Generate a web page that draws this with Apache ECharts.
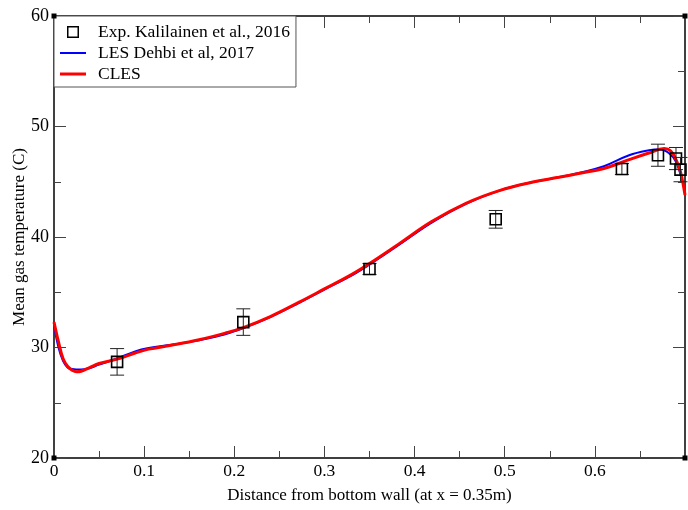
<!DOCTYPE html>
<html>
<head>
<meta charset="utf-8">
<script src="https://cdn.jsdelivr.net/npm/echarts@6/dist/echarts.min.js"></script>
<style>html,body{margin:0;padding:0;background:#fff}#c{width:688px;height:510px}</style>
</head>
<body>
<div id="c"></div>
<script>
// Experimental data (Kalilainen et al., 2016)
var expX = [0.07, 0.21, 0.35, 0.49, 0.63, 0.67, 0.69, 0.695];
var expY = [28.7, 32.3, 37.1, 41.6, 46.15, 47.4, 47.1, 46.1];
var expErr = [1.2, 1.2, 0.5, 0.8, 0.5, 1.0, 1.0, 1.1];

// LES Dehbi et al, 2017
var lesX = [0, 0.005, 0.01, 0.015, 0.02, 0.03, 0.04, 0.05, 0.07, 0.09, 0.105, 0.13, 0.161, 0.19, 0.21, 0.24, 0.272, 0.3, 0.33, 0.35, 0.383, 0.419, 0.457, 0.494, 0.53, 0.56, 0.582, 0.61, 0.638, 0.66, 0.672, 0.682, 0.69, 0.697];
var lesY = [32.0, 30.0, 28.8, 28.2, 28.05, 28.0, 28.15, 28.45, 29.0, 29.65, 29.95, 30.25, 30.65, 31.2, 31.75, 32.75, 34.05, 35.25, 36.5, 37.5, 39.3, 41.3, 43.0, 44.2, 44.95, 45.4, 45.8, 46.4, 47.4, 47.85, 47.95, 47.6, 46.8, 45.0];

// CLES
var clesX = [0, 0.005, 0.01, 0.015, 0.02, 0.025, 0.03, 0.04, 0.05, 0.07, 0.09, 0.105, 0.13, 0.161, 0.19, 0.21, 0.24, 0.272, 0.3, 0.33, 0.35, 0.383, 0.419, 0.457, 0.494, 0.53, 0.56, 0.582, 0.61, 0.638, 0.66, 0.677, 0.684, 0.69, 0.695, 0.7];
var clesY = [32.3, 30.5, 29.0, 28.3, 27.95, 27.8, 27.85, 28.2, 28.55, 28.95, 29.5, 29.85, 30.2, 30.7, 31.3, 31.8, 32.8, 34.1, 35.3, 36.6, 37.6, 39.4, 41.4, 43.05, 44.2, 44.95, 45.4, 45.75, 46.2, 47.0, 47.6, 48.0, 47.8, 47.0, 45.9, 43.8];

var xTicks = ['0', '0.1', '0.2', '0.3', '0.4', '0.5', '0.6'];
var yTicks = ['20', '30', '40', '50', '60'];

function zip(a, b) { return a.map(function (v, i) { return [v, b[i]]; }); }

var FONT = 'Liberation Serif';
var chart = echarts.init(document.getElementById('c'), null, { renderer: 'canvas' });

var axisCommon = {
  axisLine: { show: true, onZero: false, lineStyle: { color: '#000', width: 1.5 } },
  axisTick: { show: true, inside: true, length: 12, lineStyle: { color: '#444', width: 1 } },
  minorTick: { show: true, splitNumber: 2, length: 7, lineStyle: { color: '#444', width: 1 } },
  splitLine: { show: false },
  nameMoveOverlap: false
};

function xAx(pos, showLabel) {
  return Object.assign({}, axisCommon, {
    type: 'value', position: pos, min: 0, max: 0.7, interval: 0.1,
    name: showLabel ? 'Distance from bottom wall (at x = 0.35m)' : '',
    nameLocation: 'middle', nameGap: 29,
    nameTextStyle: { fontFamily: FONT, fontSize: 17, color: '#000' },
    axisLabel: {
      show: showLabel, margin: 4, fontFamily: FONT, fontSize: 17.5, color: '#000',
      formatter: function (v) {
        var s = String(Math.round(v * 10) / 10);
        return xTicks.indexOf(s) >= 0 ? s : '';
      }
    }
  });
}
function yAx(pos, showLabel) {
  return Object.assign({}, axisCommon, {
    type: 'value', position: pos, min: 20, max: 60, interval: 10,
    name: showLabel ? 'Mean gas temperature (C)' : '',
    nameLocation: 'middle', nameGap: 26, nameRotate: 90,
    nameTextStyle: { fontFamily: FONT, fontSize: 17, color: '#000' },
    axisLabel: {
      show: showLabel, margin: 5, fontFamily: FONT, fontSize: 18, color: '#000',
      formatter: function (v) { var s = String(v); return yTicks.indexOf(s) >= 0 ? s : ''; }
    }
  });
}

var expData = expX.map(function (x, i) { return [x, expY[i], expErr[i]]; });

var option = {
  animation: false,
  backgroundColor: '#fff',
  grid: { left: 54, right: 3, top: 16, bottom: 52, containLabel: false, outerBoundsMode: 'none' },
  xAxis: [xAx('bottom', true), xAx('top', false)],
  yAxis: [yAx('left', true), yAx('right', false)],
  legend: {
    orient: 'vertical', left: 54, top: 16,
    backgroundColor: '#fff', borderColor: '#555', borderWidth: 1,
    padding: [7, 6, 4, 6], itemGap: 3, itemWidth: 26, itemHeight: 12,
    textStyle: { fontFamily: FONT, fontSize: 17.5, color: '#000', padding: [0, 0, 0, 7] },
    data: [
      { name: 'Exp. Kalilainen et al., 2016', icon: 'path://M0,0 L12,0 L12,12 L0,12 Z M1.5,1.5 L1.5,10.5 L10.5,10.5 L10.5,1.5 Z', itemStyle: { color: '#000' } },
      { name: 'LES Dehbi et al, 2017', icon: 'path://M0,0 L26,0 L26,2 L0,2 Z', itemStyle: { color: '#0000ff' } },
      { name: 'CLES', icon: 'path://M0,0 L26,0 L26,3 L0,3 Z', itemStyle: { color: '#ff0000' } }
    ]
  },
  series: [
    {
      name: 'LES Dehbi et al, 2017', type: 'line', smooth: 0.4, symbol: 'none', z: 3,
      data: zip(lesX, lesY),
      lineStyle: { color: '#0000ff', width: 2 }, itemStyle: { color: '#0000ff' }
    },
    {
      name: 'CLES', type: 'line', smooth: 0.4, symbol: 'none', z: 4,
      data: zip(clesX, clesY),
      lineStyle: { color: '#ff0000', width: 3 }, itemStyle: { color: '#ff0000' }
    },
    {
      name: 'Exp. Kalilainen et al., 2016', type: 'custom', z: 5,
      data: expData,
      encode: { x: 0, y: 1 },
      itemStyle: { color: '#000' },
      renderItem: function (params, api) {
        var x = api.value(0), y = api.value(1), e = api.value(2);
        var c = api.coord([x, y]);
        var hi = api.coord([x, y + e]);
        var lo = api.coord([x, y - e]);
        var hw = 7, s = 5.5;
        var st = { stroke: '#222', lineWidth: 1, fill: null };
        return {
          type: 'group',
          children: [
            { type: 'line', shape: { x1: c[0], y1: hi[1], x2: c[0], y2: lo[1] }, style: st },
            { type: 'line', shape: { x1: c[0] - hw, y1: hi[1], x2: c[0] + hw, y2: hi[1] }, style: st },
            { type: 'line', shape: { x1: c[0] - hw, y1: lo[1], x2: c[0] + hw, y2: lo[1] }, style: st },
            { type: 'rect', shape: { x: c[0] - s, y: c[1] - s, width: 2 * s, height: 2 * s },
              style: { stroke: '#000', lineWidth: 1.6, fill: 'rgba(0,0,0,0)' } }
          ]
        };
      }
    }
  ]
};
chart.setOption(option);

// small corner markers of the frame
var corners = [[0, 20], [0, 60], [0.7, 20], [0.7, 60]];
chart.setOption({
  graphic: corners.map(function (p) {
    var q = chart.convertToPixel({ xAxisIndex: 0, yAxisIndex: 0 }, p);
    return { type: 'rect', shape: { x: q[0] - 2.5, y: q[1] - 2.5, width: 5, height: 5 }, style: { fill: '#000' }, z: 10 };
  })
});
</script>
</body>
</html>
